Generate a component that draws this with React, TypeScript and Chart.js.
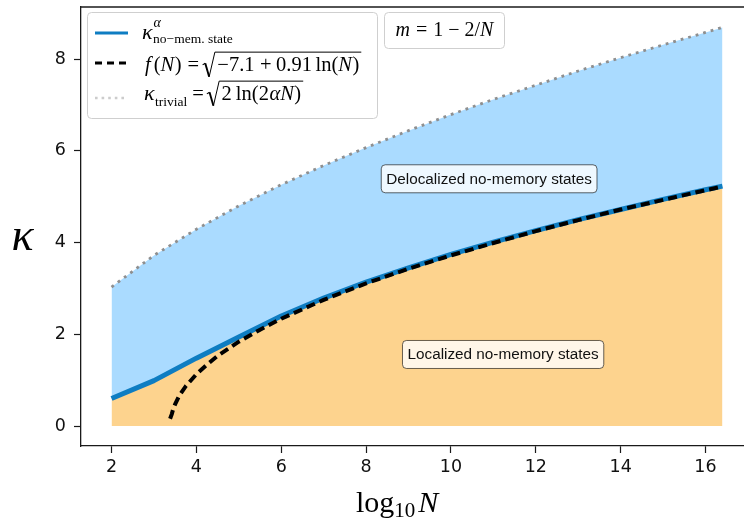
import React, { useEffect, useRef } from "react";
import { Chart, registerables } from "chart.js";

Chart.register(...registerables);

// ---------- data ----------
const logN = [2, 3, 4, 5, 6, 7, 8, 9, 10, 11, 12, 13, 14, 15, 16, 16.4];
const kappaNoMem = [0.6, 0.99, 1.48, 1.94, 2.4, 2.79, 3.14, 3.45, 3.74, 4.01, 4.26, 4.5, 4.72, 4.94, 5.15, 5.23];
const kappaTrivial = [3.03, 3.72, 4.29, 4.8, 5.26, 5.68, 6.07, 6.44, 6.79, 7.12, 7.43, 7.74, 8.03, 8.31, 8.58, 8.69];
const fitLogN = [3.38, 3.42, 3.45, 3.5, 3.6, 3.75, 4, 4.25, 4.5, 5, 5.5, 6, 7, 8, 9, 10, 11, 12, 13, 14, 15, 16, 16.4];
const fitValues = [0.16, 0.26, 0.36, 0.48, 0.67, 0.87, 1.13, 1.34, 1.53, 1.84, 2.1, 2.34, 2.75, 3.11, 3.43, 3.72, 3.99, 4.25, 4.49, 4.72, 4.93, 5.14, 5.22];
const xTickValues = [2, 4, 6, 8, 10, 12, 14, 16];
const yTickValues = [0, 2, 4, 6, 8];
const regionLabels = ["Delocalized no-memory states", "Localized no-memory states"];

// ---------- styling ----------
const C_ORANGE = "#FDD38E";
const C_LBLUE = "#AADBFF";
const C_BLUE = "#0E7DC2";
const C_GRAY = "#8f8f8f";
const SERIF = '"Liberation Serif", "Times New Roman", "DejaVu Serif", serif';
const SANS = '"Liberation Sans", Arial, "DejaVu Sans", sans-serif';
const AX = "#1a1a1a";

type Run = { t: string; s: number; i?: boolean; dy?: number; dx?: number };

function setFont(ctx: CanvasRenderingContext2D, r: Run) {
  ctx.font = `${r.i ? "italic " : ""}${r.s}px ${SERIF}`;
}
function measureRuns(ctx: CanvasRenderingContext2D, runs: Run[]) {
  let w = 0;
  for (const r of runs) {
    setFont(ctx, r);
    w += (r.dx || 0) + ctx.measureText(r.t).width;
  }
  return w;
}
function drawRuns(ctx: CanvasRenderingContext2D, x: number, y: number, runs: Run[]) {
  for (const r of runs) {
    setFont(ctx, r);
    x += r.dx || 0;
    ctx.fillText(r.t, x, y + (r.dy || 0));
    x += ctx.measureText(r.t).width;
  }
  return x;
}
function drawSqrt(ctx: CanvasRenderingContext2D, x: number, y: number, runs: Run[], s: number) {
  const w = measureRuns(ctx, runs);
  const top = y - s * 0.92;
  const bottom = y + s * 0.28;
  ctx.save();
  ctx.strokeStyle = "#000";
  ctx.lineJoin = "miter";
  ctx.lineWidth = 1.1;
  ctx.beginPath();
  ctx.moveTo(x, y - s * 0.3);
  ctx.lineTo(x + s * 0.13, y - s * 0.38);
  ctx.stroke();
  ctx.lineWidth = 1.9;
  ctx.beginPath();
  ctx.moveTo(x + s * 0.13, y - s * 0.38);
  ctx.lineTo(x + s * 0.32, bottom);
  ctx.stroke();
  ctx.lineWidth = 1.0;
  ctx.beginPath();
  ctx.moveTo(x + s * 0.32, bottom);
  ctx.lineTo(x + s * 0.6, top);
  ctx.lineTo(x + s * 0.72 + w + s * 0.1, top);
  ctx.stroke();
  ctx.restore();
  return drawRuns(ctx, x + s * 0.72, y, runs) + s * 0.1;
}
function box(ctx: CanvasRenderingContext2D, x: number, y: number, w: number, h: number, fill: string, stroke: string) {
  ctx.save();
  ctx.beginPath();
  (ctx as any).roundRect(x, y, w, h, 4);
  ctx.fillStyle = fill;
  ctx.fill();
  ctx.strokeStyle = stroke;
  ctx.lineWidth = 1;
  ctx.stroke();
  ctx.restore();
}
function sample(ctx: CanvasRenderingContext2D, y: number, color: string, dash: number[], lw: number) {
  ctx.save();
  ctx.strokeStyle = color;
  ctx.lineWidth = lw;
  ctx.setLineDash(dash);
  ctx.beginPath();
  ctx.moveTo(95, y);
  ctx.lineTo(128, y);
  ctx.stroke();
  ctx.restore();
}

const overlay = {
  id: "overlay",
  afterDatasetsDraw(chart: any) {
    const ctx: CanvasRenderingContext2D = chart.ctx;
    const xs = chart.scales.x;
    const ys = chart.scales.y;
    const places = [
      { x: 10.9, y: 5.39 },
      { x: 11.23, y: 1.56 },
    ];
    regionLabels.forEach((txt, k) => {
      const cx = xs.getPixelForValue(places[k].x);
      const cy = ys.getPixelForValue(places[k].y);
      ctx.save();
      ctx.font = `15.3px ${SANS}`;
      const w = ctx.measureText(txt).width + 10;
      box(ctx, cx - w / 2, cy - 14, w, 28, "rgba(255,255,255,0.8)", "rgba(0,0,0,0.6)");
      ctx.fillStyle = "#111";
      ctx.textAlign = "center";
      ctx.textBaseline = "middle";
      ctx.fillText(txt, cx, cy + 0.5);
      ctx.restore();
    });
  },
  afterDraw(chart: any) {
    const ctx: CanvasRenderingContext2D = chart.ctx;
    const a = chart.chartArea;
    ctx.save();
    // top spine
    ctx.strokeStyle = AX;
    ctx.lineWidth = 1.3;
    ctx.beginPath();
    ctx.moveTo(a.left, a.top);
    ctx.lineTo(a.right + 10, a.top);
    ctx.stroke();

    ctx.fillStyle = "#000";
    ctx.textAlign = "left";
    ctx.textBaseline = "alphabetic";

    // legend
    box(ctx, 87.5, 12.5, 290, 106, "rgba(255,255,255,0.85)", "#cfcfcf");
    sample(ctx, 33, C_BLUE, [], 3);
    sample(ctx, 63, "#000", [7, 5], 3);
    sample(ctx, 98, "#cccccc", [2.6, 4], 2.6);

    // row 1
    let x = drawRuns(ctx, 142, 39, [{ t: "κ", s: 22, i: true }]);
    drawRuns(ctx, x + 1, 27, [{ t: "α", s: 14, i: true }]);
    drawRuns(ctx, x + 0.5, 43, [{ t: "no−mem. state", s: 13.5 }]);

    // row 2
    x = drawRuns(ctx, 145, 71, [
      { t: "f", s: 20.5, i: true },
      { t: "(", s: 20.5, dx: 3 },
      { t: "N", s: 20.5, i: true },
      { t: ")", s: 20.5, dx: 0.5 },
      { t: "=", s: 20.5, dx: 6 },
    ]);
    drawSqrt(
      ctx,
      x + 3.5,
      71,
      [
        { t: "−7.1", s: 20.5 },
        { t: "+", s: 20.5, dx: 5.5 },
        { t: "0.91", s: 20.5, dx: 4.5 },
        { t: "ln(", s: 20.5, dx: 3.5 },
        { t: "N", s: 20.5, i: true },
        { t: ")", s: 20.5, dx: 0.5 },
      ],
      20.5
    );

    // row 3
    x = drawRuns(ctx, 144, 100, [{ t: "κ", s: 22, i: true }]);
    x = drawRuns(ctx, x + 0.5, 106, [{ t: "trivial", s: 13.5 }]);
    x = drawRuns(ctx, x, 100, [{ t: "=", s: 20.5, dx: 5 }]);
    drawSqrt(
      ctx,
      x + 3,
      100,
      [
        { t: "2", s: 20.5 },
        { t: "ln(2", s: 20.5, dx: 4 },
        { t: "αN", s: 20.5, i: true, dx: 0.5 },
        { t: ")", s: 20.5, dx: 0.5 },
      ],
      20.5
    );

    // m box
    box(ctx, 384.5, 12.5, 120, 36, "rgba(255,255,255,0.85)", "#cfcfcf");
    const mRuns: Run[] = [
      { t: "m", s: 20, i: true },
      { t: "=", s: 20, dx: 6 },
      { t: "1", s: 20, dx: 6 },
      { t: "−", s: 20, dx: 5 },
      { t: "2/", s: 20, dx: 5 },
      { t: "N", s: 20, i: true },
    ];
    const mw = measureRuns(ctx, mRuns);
    drawRuns(ctx, 444.5 - mw / 2, 36, mRuns);

    // axis titles
    ctx.font = `italic 46px ${SERIF}`;
    ctx.textAlign = "center";
    ctx.fillText("κ", 22.5, 250);
    ctx.textAlign = "left";
    x = drawRuns(ctx, 356, 511.5, [{ t: "log", s: 30 }]);
    x = drawRuns(ctx, x, 516.5, [{ t: "10", s: 21 }]);
    drawRuns(ctx, x + 3, 511.5, [{ t: "N", s: 30, i: true }]);
    ctx.restore();
  },
};

const toPts = (xs: number[], ys: number[]) => xs.map((x, i) => ({ x, y: ys[i] }));

export default function App() {
  const ref = useRef<HTMLCanvasElement>(null);
  useEffect(() => {
    const chart = new Chart(ref.current!, {
      type: "line",
      data: {
        datasets: [
          {
            label: "κ trivial",
            data: toPts(logN, kappaTrivial),
            borderColor: C_GRAY,
            borderWidth: 2.8,
            borderDash: [2.8, 5],
            fill: 1,
            backgroundColor: C_LBLUE,
            pointRadius: 0,
            order: 2,
          },
          {
            label: "κ no-mem. state",
            data: toPts(logN, kappaNoMem),
            borderColor: C_BLUE,
            borderWidth: 5,
            fill: "origin",
            backgroundColor: C_ORANGE,
            pointRadius: 0,
            borderJoinStyle: "round",
            order: 1,
          },
          {
            label: "f(N)",
            data: toPts(fitLogN, fitValues),
            borderColor: "#000",
            borderWidth: 4,
            borderDash: [9, 5],
            fill: false,
            pointRadius: 0,
            order: 0,
          },
        ] as any,
      },
      options: {
        animation: false,
        responsive: false,
        events: [],
        layout: { padding: { left: 0, top: 7, right: 47, bottom: 0 } },
        plugins: {
          legend: { display: false },
          tooltip: { enabled: false },
          filler: { drawTime: "beforeDatasetsDraw" } as any,
        },
        scales: {
          x: {
            type: "linear",
            min: 1.28,
            max: 17.12,
            afterBuildTicks: (axis: any) => {
              axis.ticks = xTickValues.map((v) => ({ value: v }));
            },
            afterFit: (s: any) => {
              s.height = 76;
              s.paddingLeft = 0;
              s.paddingRight = 0;
            },
            ticks: {
              font: { family: '"DejaVu Sans"', size: 17.5 },
              color: "#111",
              padding: 4,
              maxRotation: 0,
              autoSkip: false,
            },
            grid: { drawOnChartArea: false, drawTicks: true, tickLength: 7, tickColor: AX, tickWidth: 1.2 },
            border: { display: true, color: AX, width: 1.3 },
          },
          y: {
            type: "linear",
            min: -0.435,
            max: 9.135,
            afterBuildTicks: (axis: any) => {
              axis.ticks = yTickValues.map((v) => ({ value: v }));
            },
            afterFit: (s: any) => {
              s.width = 81;
              s.paddingTop = 0;
              s.paddingBottom = 0;
            },
            ticks: {
              font: { family: '"DejaVu Sans"', size: 17.5 },
              color: "#111",
              padding: 8,
              autoSkip: false,
            },
            grid: { drawOnChartArea: false, drawTicks: true, tickLength: 7, tickColor: AX, tickWidth: 1.2 },
            border: { display: true, color: AX, width: 1.3 },
          },
        },
      },
      plugins: [overlay],
    });
    return () => chart.destroy();
  }, []);
  return (
    <div
      style={{
        position: "fixed",
        left: 0,
        top: 0,
        width: 744,
        height: 522,
        overflow: "hidden",
        background: "#fff",
      }}
    >
      <canvas ref={ref} width={800} height={522} style={{ width: 800, height: 522, display: "block" }} />
    </div>
  );
}
